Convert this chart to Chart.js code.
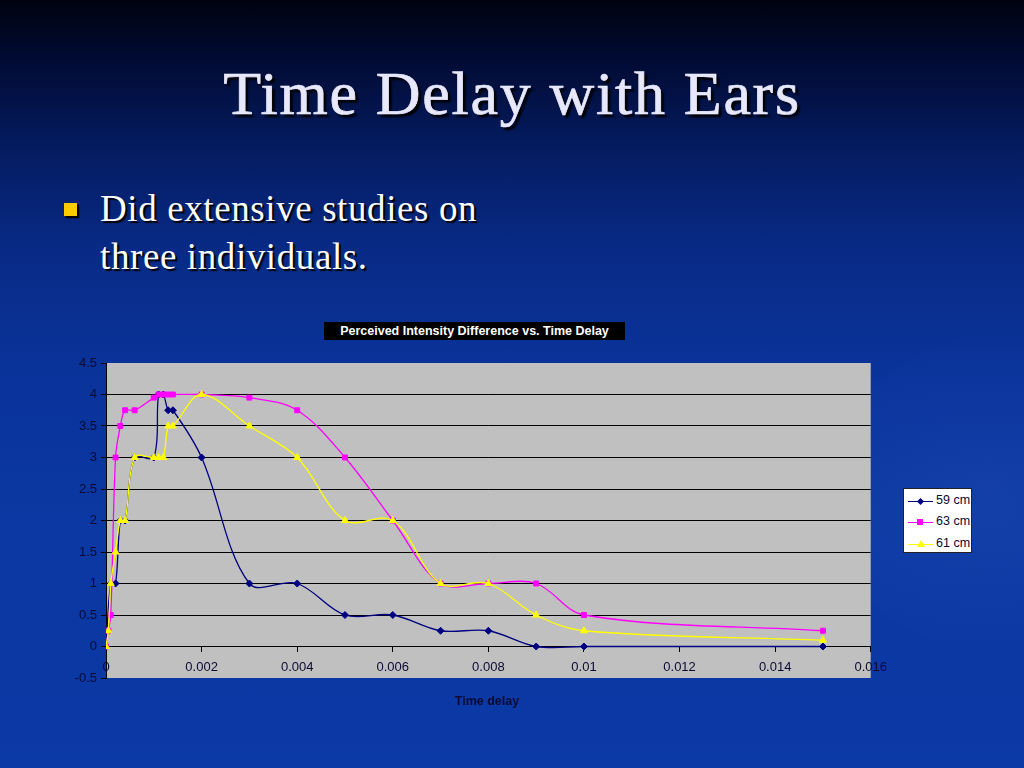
<!DOCTYPE html>
<html>
<head>
<meta charset="utf-8">
<script src="https://cdn.jsdelivr.net/npm/chart.js@4/dist/chart.umd.min.js"></script>
<style>
  html, body { margin: 0; padding: 0; }
  body {
    width: 1024px; height: 768px; overflow: hidden; position: relative;
    background: linear-gradient(to bottom, #00020f 0%, #010a30 7%, #041a5c 18%, #082a85 32%, #0a339a 48%, #0b38a3 70%, #0b39a5 100%);
    font-family: "Liberation Sans", Arial, sans-serif;
  }
  .swoosh {
    position: absolute; left: 820px; top: 330px; width: 420px; height: 330px;
    border-radius: 50%;
    background: radial-gradient(ellipse at 40% 50%, rgba(60,100,200,0.18), rgba(60,100,200,0) 70%);
  }
  h1 {
    position: absolute; left: 0; top: 58px; width: 1024px; margin: 0;
    text-align: center; font-family: "Liberation Serif", "DejaVu Serif", serif;
    font-weight: normal; font-size: 62px; color: #e8e8fc; letter-spacing: 1.7px;
    -webkit-text-stroke: 0.7px #e8e8fc;
    text-shadow: 3px 3px 2px #000;
  }
  .bullet {
    position: absolute; left: 64px; top: 203px; width: 13px; height: 13px;
    background: #ffcc00; box-shadow: 2px 2px 1px #000;
  }
  .text {
    position: absolute; left: 100px; top: 185px; margin: 0;
    font-family: "Liberation Serif", "DejaVu Serif", serif;
    font-size: 37px; line-height: 48px; color: #fff; letter-spacing: 0.6px;
    text-shadow: 2px 2px 1px #000;
  }
  .ctitle {
    position: absolute; left: 324px; top: 322px; width: 301px; height: 18px;
    background: #000; color: #fff; font-weight: bold; font-size: 12.5px;
    line-height: 18px; text-align: center; white-space: nowrap;
  }
  .xtitle {
    position: absolute; left: 387px; top: 694px; width: 200px; text-align: center;
    font-weight: bold; font-size: 12.5px; color: #0a0a33;
  }
  .box { position: absolute; left: 40px; top: 350px; width: 855px; height: 370px; }
  .legend {
    position: absolute; left: 903px; top: 488px; width: 69px; height: 65px;
    background: #fff; box-sizing: border-box; border: 1px solid #222;
    font-size: 12.5px; color: #0a0a33;
  }
  .row { position: absolute; left: 4px; height: 14px; width: 64px; }
  .row .ln { position: absolute; left: 0; top: 7px; width: 25px; height: 1px; }
  .row .mk { position: absolute; }
  .row span { position: absolute; left: 28px; top: -1px; }
</style>
</head>
<body>
<div class="swoosh"></div>
<h1>Time Delay with Ears</h1>
<div class="bullet"></div>
<p class="text">Did extensive studies on<br>three individuals.</p>
<div class="ctitle">Perceived Intensity Difference vs. Time Delay</div>
<div class="box"><canvas id="chart"></canvas></div>
<div class="xtitle">Time delay</div>
<div class="legend">
  <div class="row" style="top:5px"><div class="ln" style="background:#000080"></div>
    <div class="mk" style="left:10px;top:5px;width:5px;height:5px;background:#000080;transform:rotate(45deg)"></div><span>59 cm</span></div>
  <div class="row" style="top:26px"><div class="ln" style="background:#ff00ff"></div>
    <div class="mk" style="left:9px;top:4px;width:6px;height:6px;background:#ff00ff"></div><span>63 cm</span></div>
  <div class="row" style="top:48px"><div class="ln" style="background:#ffff00"></div>
    <div class="mk" style="left:9px;top:3px;width:0;height:0;border-left:4px solid transparent;border-right:4px solid transparent;border-bottom:7px solid #ffff00"></div><span>61 cm</span></div>
</div>
<script>
// time delay (s) and perceived intensity difference for each subject
const x59 = [0, 0.0001, 0.0002, 0.0003, 0.0004, 0.0006, 0.001, 0.0011, 0.0012, 0.0013, 0.0014, 0.002, 0.003, 0.004, 0.005, 0.006, 0.007, 0.008, 0.009, 0.01, 0.015];
const y59 = [0, 1, 1, 2, 2, 3, 3, 4, 4, 3.75, 3.75, 3, 1, 1, 0.5, 0.5, 0.25, 0.25, 0, 0, 0];

const x63 = [0, 0.00005, 0.0001, 0.0002, 0.0003, 0.0004, 0.0006, 0.001, 0.0011, 0.0012, 0.0013, 0.0014, 0.002, 0.003, 0.004, 0.005, 0.006, 0.007, 0.008, 0.009, 0.01, 0.015];
const y63 = [0, 0.25, 0.5, 3, 3.5, 3.75, 3.75, 3.95, 4, 4, 4, 4, 4, 3.95, 3.75, 3, 2, 1, 1, 1, 0.5, 0.25];

const x61 = [0, 0.00005, 0.0001, 0.0002, 0.0003, 0.0004, 0.0006, 0.001, 0.0011, 0.0012, 0.0013, 0.0014, 0.002, 0.003, 0.004, 0.005, 0.006, 0.007, 0.008, 0.009, 0.01, 0.015];
const y61 = [0, 0.25, 1, 1.5, 2, 2, 3, 3, 3, 3, 3.5, 3.5, 4, 3.5, 3, 2, 2, 1, 1, 0.5, 0.25, 0.1];

const xTicks = [0, 0.002, 0.004, 0.006, 0.008, 0.01, 0.012, 0.014, 0.016];
const yTicks = [-0.5, 0, 0.5, 1, 1.5, 2, 2.5, 3, 3.5, 4, 4.5];

const pts = (xs, ys) => xs.map((x, i) => ({ x: x, y: ys[i] }));

const plotBg = {
    id: 'plotBg',
    beforeDraw(chart) {
        const { ctx, chartArea: a } = chart;
        ctx.save();
        ctx.fillStyle = '#c0c0c0';
        ctx.fillRect(a.left, a.top, a.right - a.left, a.bottom - a.top);
        ctx.restore();
    }
};

const tickColor = '#0a0a33';

new Chart(document.getElementById('chart'), {
    type: 'scatter',
    data: {
        datasets: [
            { label: '59 cm', data: pts(x59, y59), borderColor: '#000080', backgroundColor: '#000080',
              pointStyle: 'rectRot', pointRadius: 3.5, order: 3 },
            { label: '63 cm', data: pts(x63, y63), borderColor: '#ff00ff', backgroundColor: '#ff00ff',
              pointStyle: 'rect', pointRadius: 3.5, order: 2 },
            { label: '61 cm', data: pts(x61, y61), borderColor: '#ffff00', backgroundColor: '#ffff00',
              pointStyle: 'triangle', pointRadius: 4, order: 1 }
        ]
    },
    options: {
        responsive: true,
        maintainAspectRatio: false,
        animation: false,
        showLine: true,
        datasets: { scatter: { borderWidth: 1.3, tension: 0.35, pointBorderWidth: 1 } },
        layout: { padding: { top: 13, right: 20, bottom: 42, left: 0 } },
        plugins: { legend: { display: false }, tooltip: { enabled: false } },
        scales: {
            x: {
                type: 'linear', min: 0, max: 0.016,
                position: { y: 0 },
                afterBuildTicks: s => { s.ticks = xTicks.map(v => ({ value: v })); },
                ticks: {
                    color: tickColor, padding: 8,
                    font: { family: 'Liberation Sans', size: 13 },
                    callback: v => String(+v.toFixed(3))
                },
                grid: { drawOnChartArea: false, tickLength: 5, color: '#000' },
                border: { color: '#000', width: 1 }
            },
            y: {
                type: 'linear', min: -0.5, max: 4.5,
                afterBuildTicks: s => { s.ticks = yTicks.map(v => ({ value: v })); },
                afterFit: s => { s.width = 66; },
                ticks: {
                    color: tickColor, padding: 4,
                    font: { family: 'Liberation Sans', size: 13 },
                    callback: v => String(+v.toFixed(1))
                },
                grid: {
                    tickLength: 5, tickColor: '#000',
                    color: c => (c.tick && (c.tick.value === 4.5 || c.tick.value === -0.5)) ? 'rgba(0,0,0,0)' : '#000'
                },
                border: { color: '#000', width: 1 }
            }
        }
    },
    plugins: [plotBg]
});
</script>
</body>
</html>
